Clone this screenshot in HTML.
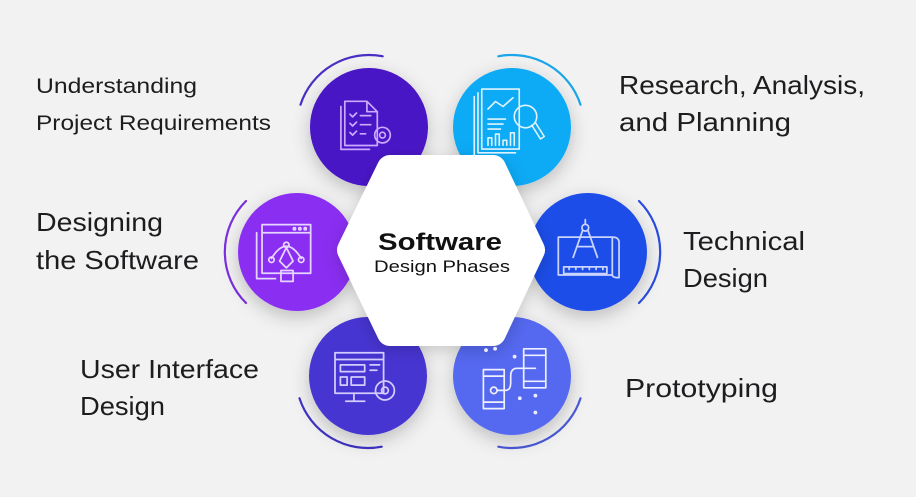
<!DOCTYPE html>
<html><head><meta charset="utf-8"><style>
html,body{margin:0;padding:0;background:#f2f2f3;}
svg{display:block}
text{font-family:"Liberation Sans",sans-serif;fill:#1d1d1f}
</style></head><body>
<svg width="916" height="497" viewBox="0 0 916 497" xmlns="http://www.w3.org/2000/svg">
<defs>
<filter id="sh" x="-50%" y="-50%" width="200%" height="200%"><feDropShadow dx="0" dy="6" stdDeviation="9" flood-color="#000" flood-opacity="0.22"/></filter>
<filter id="sh2" x="-50%" y="-50%" width="200%" height="200%"><feDropShadow dx="0" dy="4" stdDeviation="8" flood-color="#000" flood-opacity="0.18"/></filter>
</defs>
<rect width="916" height="497" fill="#f2f2f3"/>

<g fill="none" stroke-width="2.2" stroke-linecap="round">
<path d="M300.5,104.7 A72,72 0 0 1 382.7,56.3" stroke="#4b2fc4"/>
<path d="M498.3,56.3 A72,72 0 0 1 580.5,104.7" stroke="#1aa6e8"/>
<path d="M246,201 A72,72 0 0 0 246,303" stroke="#7a2fe0"/>
<path d="M639,201 A72,72 0 0 1 639,303" stroke="#2a4de0"/>
<path d="M299.5,398.3 A72,72 0 0 0 381.7,446.7" stroke="#3f33c4"/>
<path d="M498.3,446.7 A72,72 0 0 0 580.5,398.3" stroke="#4a5ad8"/>
</g>

<g filter="url(#sh)">
<circle cx="369" cy="127" r="59" fill="#4a12c6"/>
<circle cx="512" cy="127" r="59" fill="#10aaf6"/>
<circle cx="297" cy="252" r="59" fill="#8a2ff2"/>
<circle cx="588" cy="252" r="59" fill="#1f4de8"/>
<circle cx="368" cy="376" r="59" fill="#4636d2"/>
<circle cx="512" cy="376" r="59" fill="#5568f0"/>
</g>

<g filter="url(#sh2)">
<polygon points="350,250 390,168 493,168 532,250 493,333 390,333" fill="#fff" stroke="#fff" stroke-width="26" stroke-linejoin="round"/>
</g>
<text x="440" y="250" text-anchor="middle" font-weight="bold" font-size="24" textLength="124" lengthAdjust="spacingAndGlyphs" style="fill:#111">Software</text>
<text x="442" y="272" text-anchor="middle" font-size="17" textLength="136" lengthAdjust="spacingAndGlyphs" style="fill:#111">Design Phases</text>

<g fill="none" stroke-width="1.3" stroke-linejoin="round" stroke-linecap="round">
<g stroke="#cfa9ff" transform="translate(363,126) scale(1.3) translate(-363,-126)">
<path d="M349,107 h17 l8,8 v26 h-25 z M366,107 v8 h8"/>
<path d="M346,111 v33 h22"/>
<path d="M353,117 l2,2 3,-3 M353,124 l2,2 3,-3 M353,131 l2,2 3,-3 M361,118 h8 M361,125 h8 M361,132 h4"/>
<circle cx="378" cy="133" r="6"/><circle cx="378" cy="133" r="2.2"/>
</g>
<g stroke="#dff3ff" transform="translate(508,124) scale(1.25) translate(-508,-124)">
<path d="M487,96 h30 v48 h-30 z M484,99 v48 h30 M481,102 v48"/>
<path d="M492,112 l6,-6 6,4 8,-7"/>
<path d="M492,120 h14 M492,124 h12 M492,128 h10"/>
<path d="M492,141 v-6 h3 v6 M498,141 v-9 h3 v9 M504,141 v-4 h3 v4 M510,141 v-10 h3 v10"/>
<circle cx="522" cy="118" r="9"/><path d="M527,125 l7,11 3,-2 -7,-11"/>
</g>
<g stroke="#e6d6ff" transform="translate(285,253) scale(1.35) translate(-285,-253)">
<path d="M268,232 h36 v36 h-36 z M268,238 h36"/>
<path d="M264,238 v34 h14"/>
<circle cx="292" cy="235" r="0.8"/><circle cx="296" cy="235" r="0.8"/><circle cx="300" cy="235" r="0.8"/>
<path d="M275,257 q11,-18 22,0"/>
<circle cx="275" cy="258" r="2"/><circle cx="297" cy="258" r="2"/><circle cx="286" cy="247" r="2"/>
<path d="M286,249 l-5,10 5,5 5,-5 z"/><path d="M282,266 h9 v8 h-9 z"/>
</g>
<g stroke="#c9d4ff" transform="translate(588,252) scale(1.35) translate(-588,-252)">
<path d="M566,241 h40 v28 h-40 z M606,241 q5,0 5,4 v26 q-5,0 -5,-2"/>
<path d="M570,263 h32 v5 h-32 z M574,263 v2 M579,263 v2 M584,263 v2 M589,263 v2 M594,263 v2 M599,263 v2"/>
<circle cx="586" cy="234" r="2.5"/><path d="M586,231 v-3 M584,236 l-7,20 M588,236 l7,20 M580,248 h12"/>
</g>
<g stroke="#d4ccff" transform="translate(362,377) scale(1.35) translate(-362,-377)">
<path d="M342,359 h36 v30 h-36 z M342,364 h36"/>
<path d="M346,368 h18 v5 h-18 z M346,377 h5 v6 h-5 z M354,377 h10 v6 h-10 z M368,368 h7 M368,372 h5"/>
<path d="M356,389 v5 M350,395 h14"/>
<circle cx="379" cy="387" r="7"/><circle cx="379" cy="387" r="2.5"/>
</g>
<g stroke="#eef0ff" transform="translate(512,380) scale(1.3) translate(-512,-380)">
<path d="M490,372 h16 v30 h-16 z M490,377 h16 M490,397 h16"/>
<path d="M521,356 h17 v30 h-17 z M521,361 h17 M521,381 h17"/>
<circle cx="498" cy="388" r="2.5"/><path d="M501,388 h6 q4,0 4,-6 v-5 q0,-6 5,-6 h14"/>
<circle cx="492" cy="357" r="0.8"/><circle cx="499" cy="356" r="0.8"/><circle cx="514" cy="362" r="0.8"/><circle cx="518" cy="394" r="0.8"/><circle cx="530" cy="392" r="0.8"/><circle cx="530" cy="405" r="0.8"/>
</g>
</g>

<text x="36" y="93" font-size="21" textLength="161" lengthAdjust="spacingAndGlyphs">Understanding</text>
<text x="36" y="130" font-size="21" textLength="235" lengthAdjust="spacingAndGlyphs">Project Requirements</text>
<text x="619" y="94" font-size="26" textLength="246" lengthAdjust="spacingAndGlyphs">Research, Analysis,</text>
<text x="619" y="131" font-size="26" textLength="172" lengthAdjust="spacingAndGlyphs">and Planning</text>
<text x="36" y="231" font-size="26" textLength="127" lengthAdjust="spacingAndGlyphs">Designing</text>
<text x="36" y="269" font-size="26" textLength="163" lengthAdjust="spacingAndGlyphs">the Software</text>
<text x="683" y="250" font-size="26" textLength="122" lengthAdjust="spacingAndGlyphs">Technical</text>
<text x="683" y="287" font-size="26" textLength="85" lengthAdjust="spacingAndGlyphs">Design</text>
<text x="80" y="378" font-size="26" textLength="179" lengthAdjust="spacingAndGlyphs">User Interface</text>
<text x="80" y="415" font-size="26" textLength="85" lengthAdjust="spacingAndGlyphs">Design</text>
<text x="625" y="397" font-size="26" textLength="153" lengthAdjust="spacingAndGlyphs">Prototyping</text>
</svg>
</body></html>
